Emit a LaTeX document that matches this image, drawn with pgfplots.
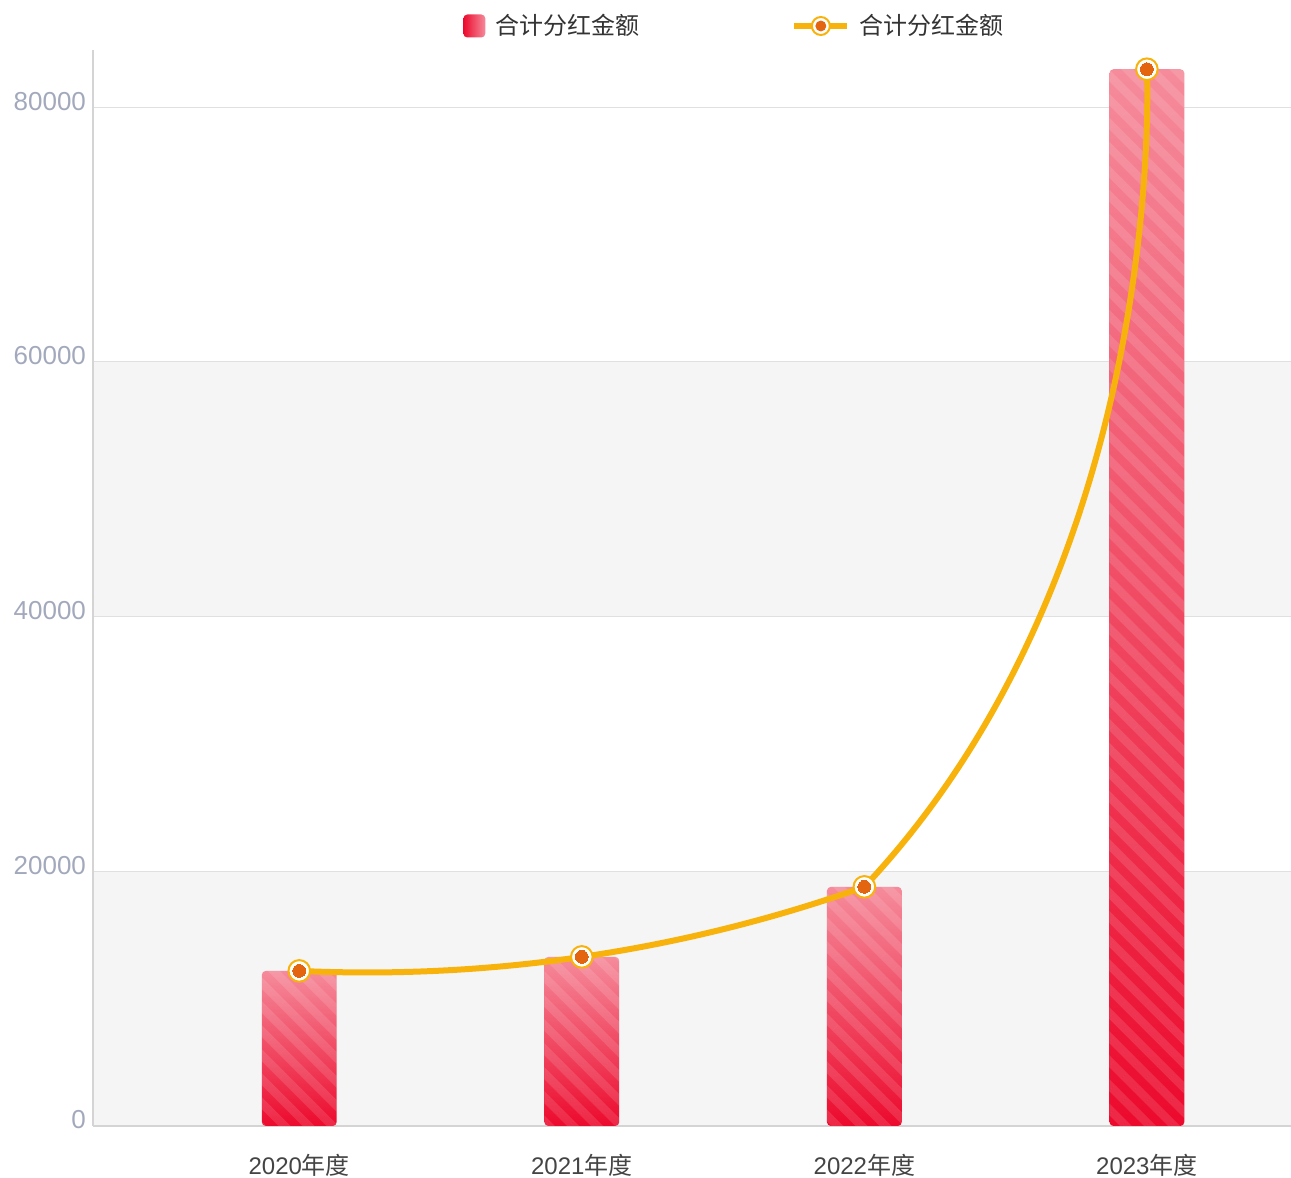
\documentclass[border=0pt]{standalone}
\usepackage{pgfplots}
\pgfplotsset{compat=1.18}
\usepackage{fontspec}
\setmainfont{Liberation Sans}
\newfontfamily\cjk{Noto Sans CJK SC}
\usetikzlibrary{patterns.meta,hobby}

\definecolor{barTop}{HTML}{F58B9B}
\definecolor{barBot}{HTML}{EC0A2D}
\definecolor{lineC}{HTML}{F7B30C}
\definecolor{dotC}{HTML}{E3650F}
\definecolor{bandC}{HTML}{F5F5F5}
\definecolor{gridC}{HTML}{E0E0E0}
\definecolor{axisC}{HTML}{D4D4D4}
\definecolor{ytickC}{HTML}{A3A9BC}
\definecolor{xtickC}{HTML}{444444}
\definecolor{legC}{HTML}{333333}

\pgfplotsset{onebar/.style={ybar, bar width=0.265, bar shift=0pt, draw=none,
  top color=barTop, bottom color=barBot, rounded corners=2pt}}

\begin{document}
\begin{tikzpicture}
\begin{axis}[
  name=ax,
  set layers,
  scale only axis,
  width=599pt, height=538pt,
  xmin=-0.73, xmax=3.51,
  ymin=0, ymax=84500,
  axis x line*=bottom, axis y line*=left,
  axis line style={draw=axisC, line width=0.6pt, -},
  xtick={0,1,2,3},
  xticklabels={2020{\cjk 年度},2021{\cjk 年度},2022{\cjk 年度},2023{\cjk 年度}},
  ytick={0,20000,40000,60000,80000},
  yticklabels={0,20000,40000,60000,80000},
  scaled y ticks=false,
  major tick length=0pt,
  ymajorgrids,
  grid style={draw=gridC, line width=0.5pt},
  xticklabel style={text=xtickC, font=\fontsize{12}{14}\selectfont, yshift=-10.5pt},
  yticklabel style={text=ytickC, font=\fontsize{13}{15}\selectfont, yshift=3pt},
  legend columns=2,
  legend style={at={(axis description cs:0.3088,1.0223)}, anchor=west,
    draw=none, fill=none, inner sep=0pt,
    font=\cjk\fontsize{12}{14}\selectfont, text=legC,
    /tikz/column 1/.style={column sep=3pt},
    /tikz/column 2/.style={column sep=74pt},
    /tikz/column 3/.style={column sep=2.5pt}},
]
\begin{pgfonlayer}{axis background}
  \fill[bandC] (axis cs:-0.73,0) rectangle (axis cs:3.51,20000);
  \fill[bandC] (axis cs:-0.73,40000) rectangle (axis cs:3.51,60000);
\end{pgfonlayer}

% one plot per bar so that each bar gets its own gradient
\addplot[onebar,
  legend image code/.code={\shade[left color=barBot,right color=barTop] (0pt,-5.75pt) rectangle (11pt,5.75pt);}]
  coordinates {(0,12180)};
\addlegendentry{合计分红金额}
\addplot[onebar, forget plot] coordinates {(1,13280)};
\addplot[onebar, forget plot] coordinates {(2,18780)};
\addplot[onebar, forget plot] coordinates {(3,82990)};
% light diagonal stripes over the bars
\addplot[ybar, bar width=0.265, bar shift=0pt, draw=none, forget plot,
  pattern={Lines[angle=-45,distance=8.5pt,line width=4.2pt]}, pattern color=white,
  opacity=0.12, rounded corners=2pt]
  coordinates {(0,12180) (1,13280) (2,18780) (3,82990)};

% smooth line, first part (2020-2022)
\addplot[hobby, color=lineC, line width=3pt, forget plot]
  coordinates {(0,12180) (1,13280) (2,18780)};
% last part (2022-2023), only the piece right of 2022 is kept
\begin{scope}
  \clip (axis cs:2,0) rectangle (axis cs:3.51,84500);
  \addplot[smooth, tension=1.3, color=lineC, line width=3pt, forget plot]
    coordinates {(0,12180) (2,18780) (3,82990)};
\end{scope}

\addplot[only marks, mark=*, mark size=5.4pt, color=lineC,
  mark options={fill=white, draw=lineC, line width=1pt},
  legend image code/.code={
    \draw[lineC,line width=3pt] (0pt,0pt) -- (26.5pt,0pt);
    \draw[lineC,fill=white,line width=1pt] (13.25pt,0pt) circle (4.5pt);
    \fill[dotC] (13.25pt,0pt) circle (2.5pt);}]
  coordinates {(0,12180) (1,13280) (2,18780) (3,82990)};
\addlegendentry{合计分红金额}
\addplot[only marks, mark=*, mark size=3.2pt, forget plot, color=dotC,
  mark options={fill=dotC, draw=dotC, line width=0pt}]
  coordinates {(0,12180) (1,13280) (2,18780) (3,82990)};
\end{axis}
\pgfresetboundingbox
\path ([shift={(-46.5pt,-26pt)}]ax.south west) rectangle ([shift={(0pt,25pt)}]ax.north east);
\end{tikzpicture}
\end{document}
